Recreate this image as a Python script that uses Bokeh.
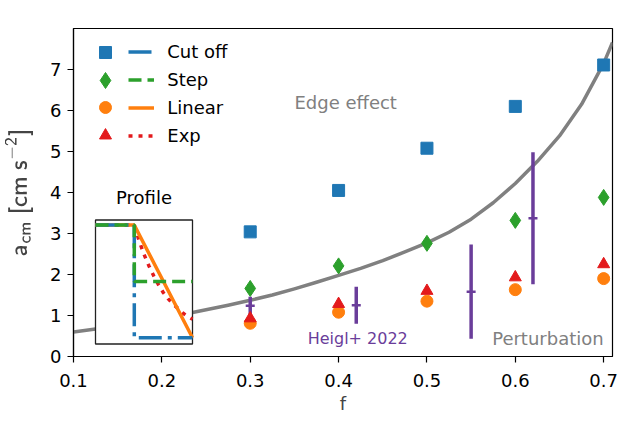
import numpy as np
from bokeh.plotting import figure
from bokeh.models import Range1d, Label, Legend, LegendItem, FixedTicker
from bokeh.embed import file_html
from bokeh.resources import INLINE

# ---- simulation results: centre-of-mass acceleration in units of 1e-9 cm s^-2 ----
f_sim = [0.3, 0.4, 0.5, 0.6, 0.7]
a_cutoff = [3.04, 4.05, 5.08, 6.10, 7.11]
a_step = [1.66, 2.21, 2.76, 3.32, 3.88]
a_linear = [0.81, 1.08, 1.35, 1.63, 1.90]
a_exp = [0.93, 1.28, 1.60, 1.93, 2.25]

# ---- Heigl+ 2022 measurements ----
f_heigl = [0.30, 0.42, 0.55, 0.62]
a_heigl = [1.24, 1.25, 1.58, 3.37]
err_heigl = [0.22, 0.45, 1.15, 1.61]

# ---- edge-effect estimate ----
f_model = [0.100, 0.125, 0.150, 0.175, 0.200, 0.225, 0.250, 0.275, 0.300,
           0.325, 0.350, 0.375, 0.400, 0.425, 0.450, 0.475, 0.500, 0.525,
           0.550, 0.575, 0.600, 0.625, 0.650, 0.675, 0.700, 0.710]
a_model = [0.60, 0.67, 0.75, 0.84, 0.93, 1.03, 1.14, 1.25, 1.37,
           1.50, 1.65, 1.81, 1.98, 2.15, 2.34, 2.55, 2.77, 3.03,
           3.35, 3.75, 4.22, 4.76, 5.38, 6.15, 7.15, 7.66]

# ---- density profiles shown in the inset (radius scaled to the outer edge) ----
r_cut = [0.0, 0.4, 0.4, 1.0]
rho_cut = [1.0, 1.0, 0.0, 0.0]
r_step = [0.0, 0.4, 0.4, 1.0]
rho_step = [1.0, 1.0, 0.5, 0.5]
r_lin = [0.0, 0.4, 1.0]
rho_lin = [1.0, 1.0, 0.0]
r_exp = [0.0, 0.4, 0.45, 0.5, 0.55, 0.6, 0.65, 0.7, 0.75, 0.8, 0.85, 0.9, 0.95, 1.0]
rho_exp = [1.0, 1.0, 0.86, 0.74, 0.64, 0.55, 0.47, 0.40, 0.345, 0.30, 0.26, 0.22, 0.19, 0.165]

x_ticks = [0.1, 0.2, 0.3, 0.4, 0.5, 0.6, 0.7]
y_ticks = [0, 1, 2, 3, 4, 5, 6, 7]

labels = ["Cut off", "Step", "Linear", "Exp"]
BLUE, GREEN, ORANGE, RED = "#1f77b4", "#2ca02c", "#ff7f0e", "#e31a1c"
PURPLE, GREY = "#6a3d9a", "#808080"
FONT = "DejaVu Sans"

# ---- page geometry (canvas pixels) ----
W, H = 619, 423
F_LEFT, F_RIGHT, F_TOP, F_BOTTOM = 73, 612, 28, 356
X_MAIN = (0.1, 0.71)
Y_MAIN = (0.0, 8.0)

p = figure(width=W, height=H, x_range=Range1d(*X_MAIN), y_range=Range1d(*Y_MAIN),
           output_backend="svg", toolbar_location=None,
           min_border_left=F_LEFT, min_border_right=W - F_RIGHT,
           min_border_top=F_TOP, min_border_bottom=H - F_BOTTOM)
p.background_fill_color = "white"
p.border_fill_color = "white"
p.outline_line_color = "black"
p.outline_line_width = 1.2
p.grid.visible = False

for ax in (p.xaxis[0], p.yaxis[0]):
    ax.major_tick_out = 6
    ax.major_tick_in = 0
    ax.minor_tick_out = 0
    ax.minor_tick_in = 0
    ax.axis_line_width = 1.2
    ax.major_tick_line_width = 1.2
    ax.major_label_text_font = FONT
    ax.major_label_text_font_size = "18px"
    ax.major_label_text_color = "black"
    ax.axis_label_text_font = FONT
    ax.axis_label_text_font_size = "18px"
    ax.axis_label_text_font_style = "normal"
p.xaxis.major_label_standoff = 11
p.xaxis.axis_label_standoff = 3
p.yaxis.major_label_standoff = 6
p.yaxis.axis_label_standoff = 14
p.yaxis.axis_label_text_font_size = "19px"
p.xaxis.ticker = FixedTicker(ticks=x_ticks)
p.yaxis.ticker = FixedTicker(ticks=y_ticks)
p.xaxis.axis_label = "f"
p.yaxis.axis_label = r"$$\mathsf{a_{cm}\ [cm\ s^{-2}]}$$"

# scale factor of the y axis, written above its top end
p.add_layout(Label(x=X_MAIN[0], y=Y_MAIN[1], y_offset=14, text="1e\u22129",
                   text_align="left", text_baseline="alphabetic", text_font=FONT,
                   text_font_size="18px", text_color="black"))

# edge-effect curve
p.line(f_model, a_model, line_color=GREY, line_width=3.5, line_join="round")

# ---- inset axes, mapped onto the frame through extra ranges ----
BOX_L, BOX_R, BOX_T, BOX_B = 95.0, 192.0, 219.5, 343.5
U_LIM = (0.0, 1.0)
V_LIM = (-0.055, 1.045)
ppu = (BOX_R - BOX_L) / (U_LIM[1] - U_LIM[0])
ppv = (BOX_B - BOX_T) / (V_LIM[1] - V_LIM[0])
p.extra_x_ranges = {"inset": Range1d(U_LIM[0] - (BOX_L - F_LEFT) / ppu,
                                     U_LIM[1] + (F_RIGHT - BOX_R) / ppu)}
p.extra_y_ranges = {"inset": Range1d(V_LIM[0] - (F_BOTTOM - BOX_B) / ppv,
                                     V_LIM[1] + (BOX_T - F_TOP) / ppv)}
ins = dict(x_range_name="inset", y_range_name="inset")

p.quad(left=[U_LIM[0]], right=[U_LIM[1]], bottom=[V_LIM[0]], top=[V_LIM[1]],
       fill_color="white", line_color="#222222", line_width=1.3, **ins)
r_exp_line = p.line(r_exp, rho_exp, line_color=RED, line_width=3.5, line_dash="4 6", **ins)
r_lin_line = p.line(r_lin, rho_lin, line_color=ORANGE, line_width=3.5, **ins)
r_cut_line = p.line(r_cut, rho_cut, line_color=BLUE, line_width=3.5, line_dash="23 6 4 6", **ins)
r_step_line = p.line(r_step, rho_step, line_color=GREEN, line_width=3.5, line_dash="13 6", **ins)
p.add_layout(Label(x=0.5, y=V_LIM[1], y_offset=23, text="Profile", text_align="center",
                   text_baseline="alphabetic", text_font=FONT, text_font_size="18px",
                   text_color="black", **ins))

# ---- Heigl+ 2022 error bars ----
lo = [a - e for a, e in zip(a_heigl, err_heigl)]
hi = [a + e for a, e in zip(a_heigl, err_heigl)]
p.segment(x0=f_heigl, y0=lo, x1=f_heigl, y1=hi, line_color=PURPLE, line_width=3.5)
p.scatter(f_heigl, a_heigl, marker="dash", size=9, line_color=PURPLE, line_width=2.5)

# ---- simulation markers ----
m_cut = p.scatter(f_sim, a_cutoff, marker="square", size=12, color=BLUE)
m_step = p.scatter(f_sim, a_step, marker="diamond", size=16, color=GREEN)
m_lin = p.scatter(f_sim, a_linear, marker="circle", size=12, color=ORANGE)
m_exp = p.scatter(f_sim, a_exp, marker="triangle", size=12, color=RED)

# ---- annotations ----
p.add_layout(Label(x=0.35, y=6.2, text="Edge effect", text_align="left",
                   text_baseline="alphabetic", text_font=FONT, text_font_size="18px",
                   text_color=GREY))
p.add_layout(Label(x=0.7, y=0.43, text="Perturbation", text_align="right",
                   text_baseline="alphabetic", text_font=FONT, text_font_size="18px",
                   text_color=GREY))
p.add_layout(Label(x=0.365, y=0.43, text="Heigl+ 2022", text_align="left",
                   text_baseline="alphabetic", text_font=FONT, text_font_size="16px",
                   text_color=PURPLE))

# ---- legend: a marker column and a line column with the labels ----
ROW_Y = [52.3, 79.7, 107.3, 135.0]
MARK_X = 105.0
for rend, size, cy in zip([m_cut, m_step, m_lin, m_exp], [12, 16, 12, 12], ROW_Y):
    g = int(round(size / 0.4))
    leg = Legend(items=[LegendItem(label=" ", renderers=[rend])],
                 glyph_width=g, glyph_height=g, padding=0, margin=0,
                 label_width=0, label_height=0, label_standoff=0,
                 label_text_font_size="1px", border_line_alpha=0,
                 background_fill_alpha=0,
                 location=(MARK_X - g / 2 - F_LEFT, F_BOTTOM - (cy + g / 2)))
    p.add_layout(leg)

ROW_H, ROW_GAP = 21, 7
LINE_X0 = 128.3
leg_h = 4 * ROW_H + 3 * ROW_GAP
top = (ROW_Y[0] + ROW_Y[-1]) / 2 - leg_h / 2
line_leg = Legend(items=[LegendItem(label=lab, renderers=[r]) for lab, r in
                         zip(labels, [r_cut_line, r_step_line, r_lin_line, r_exp_line])],
                  glyph_width=26, glyph_height=ROW_H, label_height=ROW_H, spacing=ROW_GAP,
                  label_standoff=13, padding=0, margin=0,
                  label_text_font=FONT, label_text_font_size="18px",
                  label_text_color="black", border_line_alpha=0, background_fill_alpha=0,
                  location=(LINE_X0 - F_LEFT, F_BOTTOM - (top + leg_h)))
p.add_layout(line_leg)

open("out.html", "w").write(file_html(p, INLINE))
